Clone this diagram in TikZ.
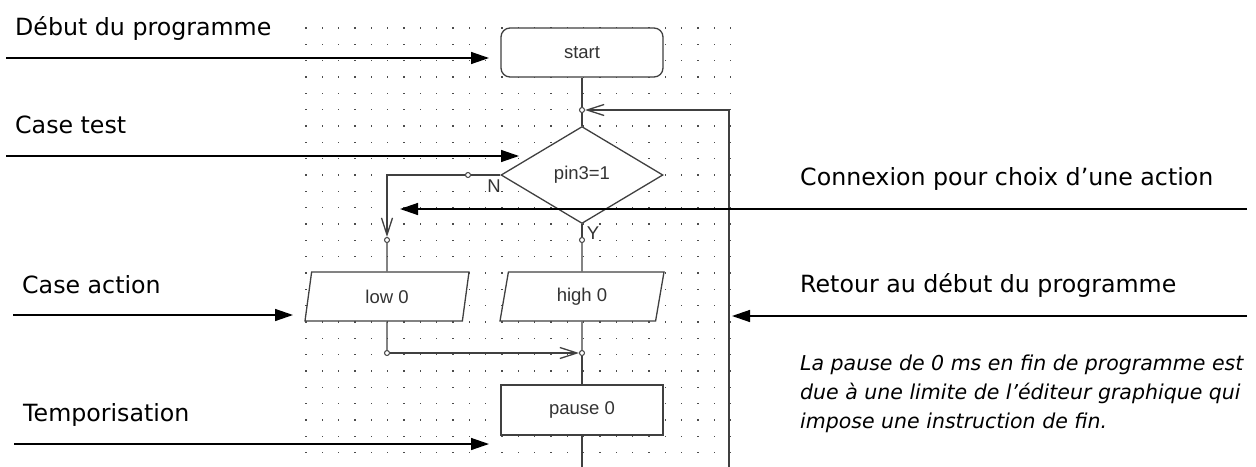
\documentclass[tikz,border=0pt]{standalone}
\usepackage{fontspec}
\setmainfont{DejaVu Sans}
\newfontfamily\flowfont{Liberation Sans}
\usetikzlibrary{shapes.geometric,arrows.meta}
\definecolor{linegray}{gray}{0.25}
\definecolor{textgray}{gray}{0.2}

\begin{document}
\begin{tikzpicture}[x=1pt,y=-1pt,
	label/.style={anchor=base west,inner sep=0,font=\fontsize{23.7}{28}\selectfont},
	remark/.style={anchor=base west,inner sep=0,font=\fontsize{20.5}{29}\selectfont\itshape},
	box/.style={draw=linegray,fill=white,line width=1.3pt,font=\flowfont\fontsize{18.5}{20}\selectfont,text=textgray,inner sep=0},
	slanted/.style={box,trapezium,trapezium left angle=64,trapezium right angle=116,trapezium stretches body,minimum width=164pt,minimum height=49pt},
	joint/.style={circle,draw=linegray,fill=white,line width=1pt,minimum size=5pt,inner sep=0},
	tag/.style={font=\flowfont\fontsize{18.5}{20}\selectfont,text=textgray,inner sep=0},
	flow/.style={draw=linegray,line width=1.3pt},
	barb/.style={flow,-{Straight Barb[length=17pt,width=11pt]}},
	pointer/.style={line width=1.4pt,-{Triangle[length=18pt,width=12pt]}}]
	
	\useasboundingbox (0,0) rectangle (1256,466);
	
	\foreach \i in {0,...,26}
		\foreach \j in {0,...,26}
			\fill[black!70] (305.4+16.33*\i,27.4+16.33*\j) rectangle ++(1.3,1.3);
	
	\node[box,rounded corners=9pt,minimum width=162pt,minimum height=49pt] (start) at (582,52.5) {start};
	\node[joint] (top) at (582,110) {};
	\node[box,diamond,minimum width=162pt,minimum height=97pt] (test) at (582,175) {pin3=1};
	\node[joint] (no) at (468,175) {};
	\node[joint] (lowin) at (387,240) {};
	\node[joint] (yes) at (582,240) {};
	\node[slanted] (low) at (387,296.5) {low 0};
	\node[slanted] (high) at (582,296.5) {high 0};
	\node[joint] (lowout) at (387,353) {};
	\node[joint] (merge) at (582,353) {};
	\node[box,minimum width=162pt,minimum height=50pt] (pause) at (582,410) {pause 0};
	\coordinate (stop) at (582,470);
	\coordinate (back) at (729,470);
	
	\node[tag] (nlabel) at (494,186) {N};
	\node[tag] (ylabel) at (593,233) {Y};
	
	\draw[flow] (start) -- (top);
	\draw[flow] (top) -- (test);
	\draw[barb] (back) |- (top);
	\draw[flow] (test.west) -- (no);
	\draw[barb] (no) -| (lowin);
	\draw[flow] (lowin) -- (low);
	\draw[flow] (test.south) -- (yes);
	\draw[flow] (yes) -- (high);
	\draw[flow] (low) -- (lowout);
	\draw[barb] (lowout) -- (merge);
	\draw[flow] (high) -- (merge);
	\draw[flow] (merge) -- (pause);
	\draw[flow] (pause) -- (stop);
	
	\node[label] (debut) at (15,35) {Début du programme};
	\node[label] (casetest) at (15,133) {Case test};
	\node[label] (caseaction) at (22,293) {Case action};
	\node[label] (tempo) at (23,421) {Temporisation};
	\node[label] (connexion) at (800,185) {Connexion pour choix d’une action};
	\node[label] (retour) at (800,292) {Retour au début du programme};
	\node[remark] (note1) at (800,370) {La pause de 0 ms en fin de programme est};
	\node[remark] (note2) at (800,399) {due à une limite de l’éditeur graphique qui};
	\node[remark] (note3) at (800,428) {impose une instruction de fin.};
	
	\coordinate (from1) at (6,58);
	\coordinate (to1) at (489,58);
	\coordinate (from2) at (6,156);
	\coordinate (to2) at (519,156);
	\coordinate (from3) at (1247,209);
	\coordinate (to3) at (400,209);
	\coordinate (from4) at (13,315);
	\coordinate (to4) at (293,315);
	\coordinate (from5) at (1247,316);
	\coordinate (to5) at (732,316);
	\coordinate (from6) at (14,444);
	\coordinate (to6) at (489,444);
	
	\draw[pointer] (from1) -- (to1);
	\draw[pointer] (from2) -- (to2);
	\draw[pointer] (from3) -- (to3);
	\draw[pointer] (from4) -- (to4);
	\draw[pointer] (from5) -- (to5);
	\draw[pointer] (from6) -- (to6);
\end{tikzpicture}
\end{document}
